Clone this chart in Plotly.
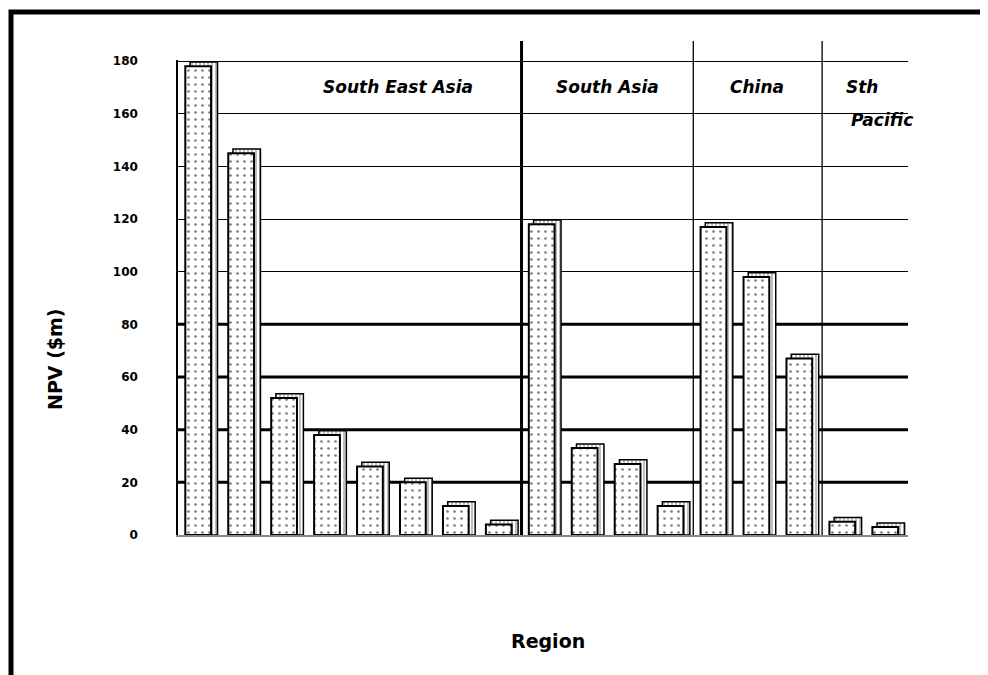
import plotly.graph_objects as go

# ---- data ----
regions = ["South East Asia", "South Asia", "China", "Sth Pacific"]
sea_values = [178, 145, 52, 38, 26, 20, 11, 4]
sa_values = [118, 33, 27, 11]
china_values = [117, 98, 67]
pacific_values = [5, 3]
y_ticks = [0, 20, 40, 60, 80, 100, 120, 140, 160, 180]

groups = [sea_values, sa_values, china_values, pacific_values]
values = [v for g in groups for v in g]
xs = list(range(len(values)))

bounds = []
n = 0
for g in groups[:-1]:
    n += len(g)
    bounds.append(n - 0.5)

W, H = 988, 675
OFF = 8  # page offset of the rendered figure
L, R, T, B = 178 - OFF, 988 - 908 + OFF, 60 - OFF, 675 - 535 + OFF
PW, PH = W - L - R, H - T - B

def px2paper_x(px):  # screen px -> paper
    return (px - OFF - L) / PW

def px2paper_y(py):
    return (H - B - (py - OFF)) / PH

fig = go.Figure()

# side / top face (drawn behind)
fig.add_trace(go.Bar(
    x=xs, y=[v + 1.6 for v in values],
    offset=-0.22, width=0.64,
    marker=dict(color="white", line=dict(color="black", width=1.5),
                pattern=dict(shape="|", fgcolor="black", bgcolor="white",
                             size=4, solidity=0.25)),
    hoverinfo="skip", showlegend=False,
))
# front face
fig.add_trace(go.Bar(
    x=xs, y=values,
    offset=-0.33, width=0.6,
    marker=dict(color="white", line=dict(color="black", width=2),
                pattern=dict(shape=".", fgcolor="black", bgcolor="white",
                             size=7, solidity=0.12)),
    showlegend=False,
))

shapes = []
for t in y_ticks:
    if 0 < t <= 80:
        shapes.append(dict(type="line", xref="paper", yref="y", x0=0, x1=1,
                           y0=t, y1=t, line=dict(color="black", width=3),
                           layer="below"))
for i, b in enumerate(bounds):
    shapes.append(dict(type="line", xref="x", yref="paper", x0=b, x1=b,
                       y0=0, y1=px2paper_y(41),
                       line=dict(color="black", width=3 if i == 0 else 1.3),
                       layer="below"))
shapes.append(dict(type="rect", xref="paper", yref="paper",
                   x0=px2paper_x(11), x1=px2paper_x(1010),
                   y0=px2paper_y(710), y1=px2paper_y(12),
                   line=dict(color="black", width=5), fillcolor="rgba(0,0,0,0)"))

label_font = dict(family="DejaVu Sans", size=17, color="black",
                  style="italic", weight="bold")

def ann(text, x, y, xref="paper", **kw):
    d = dict(text=text, x=x, y=y, xref=xref, yref="paper", showarrow=False,
             xanchor=kw.pop("xanchor", "center"), yanchor="middle")
    d.update(kw)
    return d

annotations = [
    ann("South East Asia", 4.62, px2paper_y(87), xref="x", font=label_font),
    ann("South Asia", 9.51, px2paper_y(87), xref="x", font=label_font),
    ann("China", 12.98, px2paper_y(87), xref="x", font=label_font),
    ann("Sth", 15.0, px2paper_y(87), xref="x", xanchor="left", font=label_font),
    ann("Pacific", 15.12, px2paper_y(120), xref="x", xanchor="left", font=label_font),
    ann("<b>NPV ($m)</b>", px2paper_x(55), px2paper_y(359), textangle=-90,
        font=dict(family="DejaVu Sans", size=19, color="black")),
    ann("<b>Region</b>", px2paper_x(548), px2paper_y(641),
        font=dict(family="DejaVu Sans", size=19, color="black")),
]

fig.update_layout(
    width=W, height=H,
    margin=dict(l=L, r=R, t=T, b=B),
    paper_bgcolor="white", plot_bgcolor="white",
    barmode="overlay",
    shapes=shapes,
    annotations=annotations,
    xaxis=dict(range=[-0.5, len(values) - 0.5], showticklabels=False,
               showgrid=False, zeroline=False, showline=True,
               linecolor="#888888", linewidth=1.5, ticks=""),
    yaxis=dict(range=[0, 180.4], tickvals=y_ticks, ticks="",
               showgrid=True, gridcolor="black", gridwidth=1.3,
               zeroline=False, showline=True, linecolor="black", linewidth=1.5,
               ticklabelstandoff=36,
               tickfont=dict(family="DejaVu Sans", size=12, color="black",
                             weight="bold")),
)

fig.write_html("out.html")
